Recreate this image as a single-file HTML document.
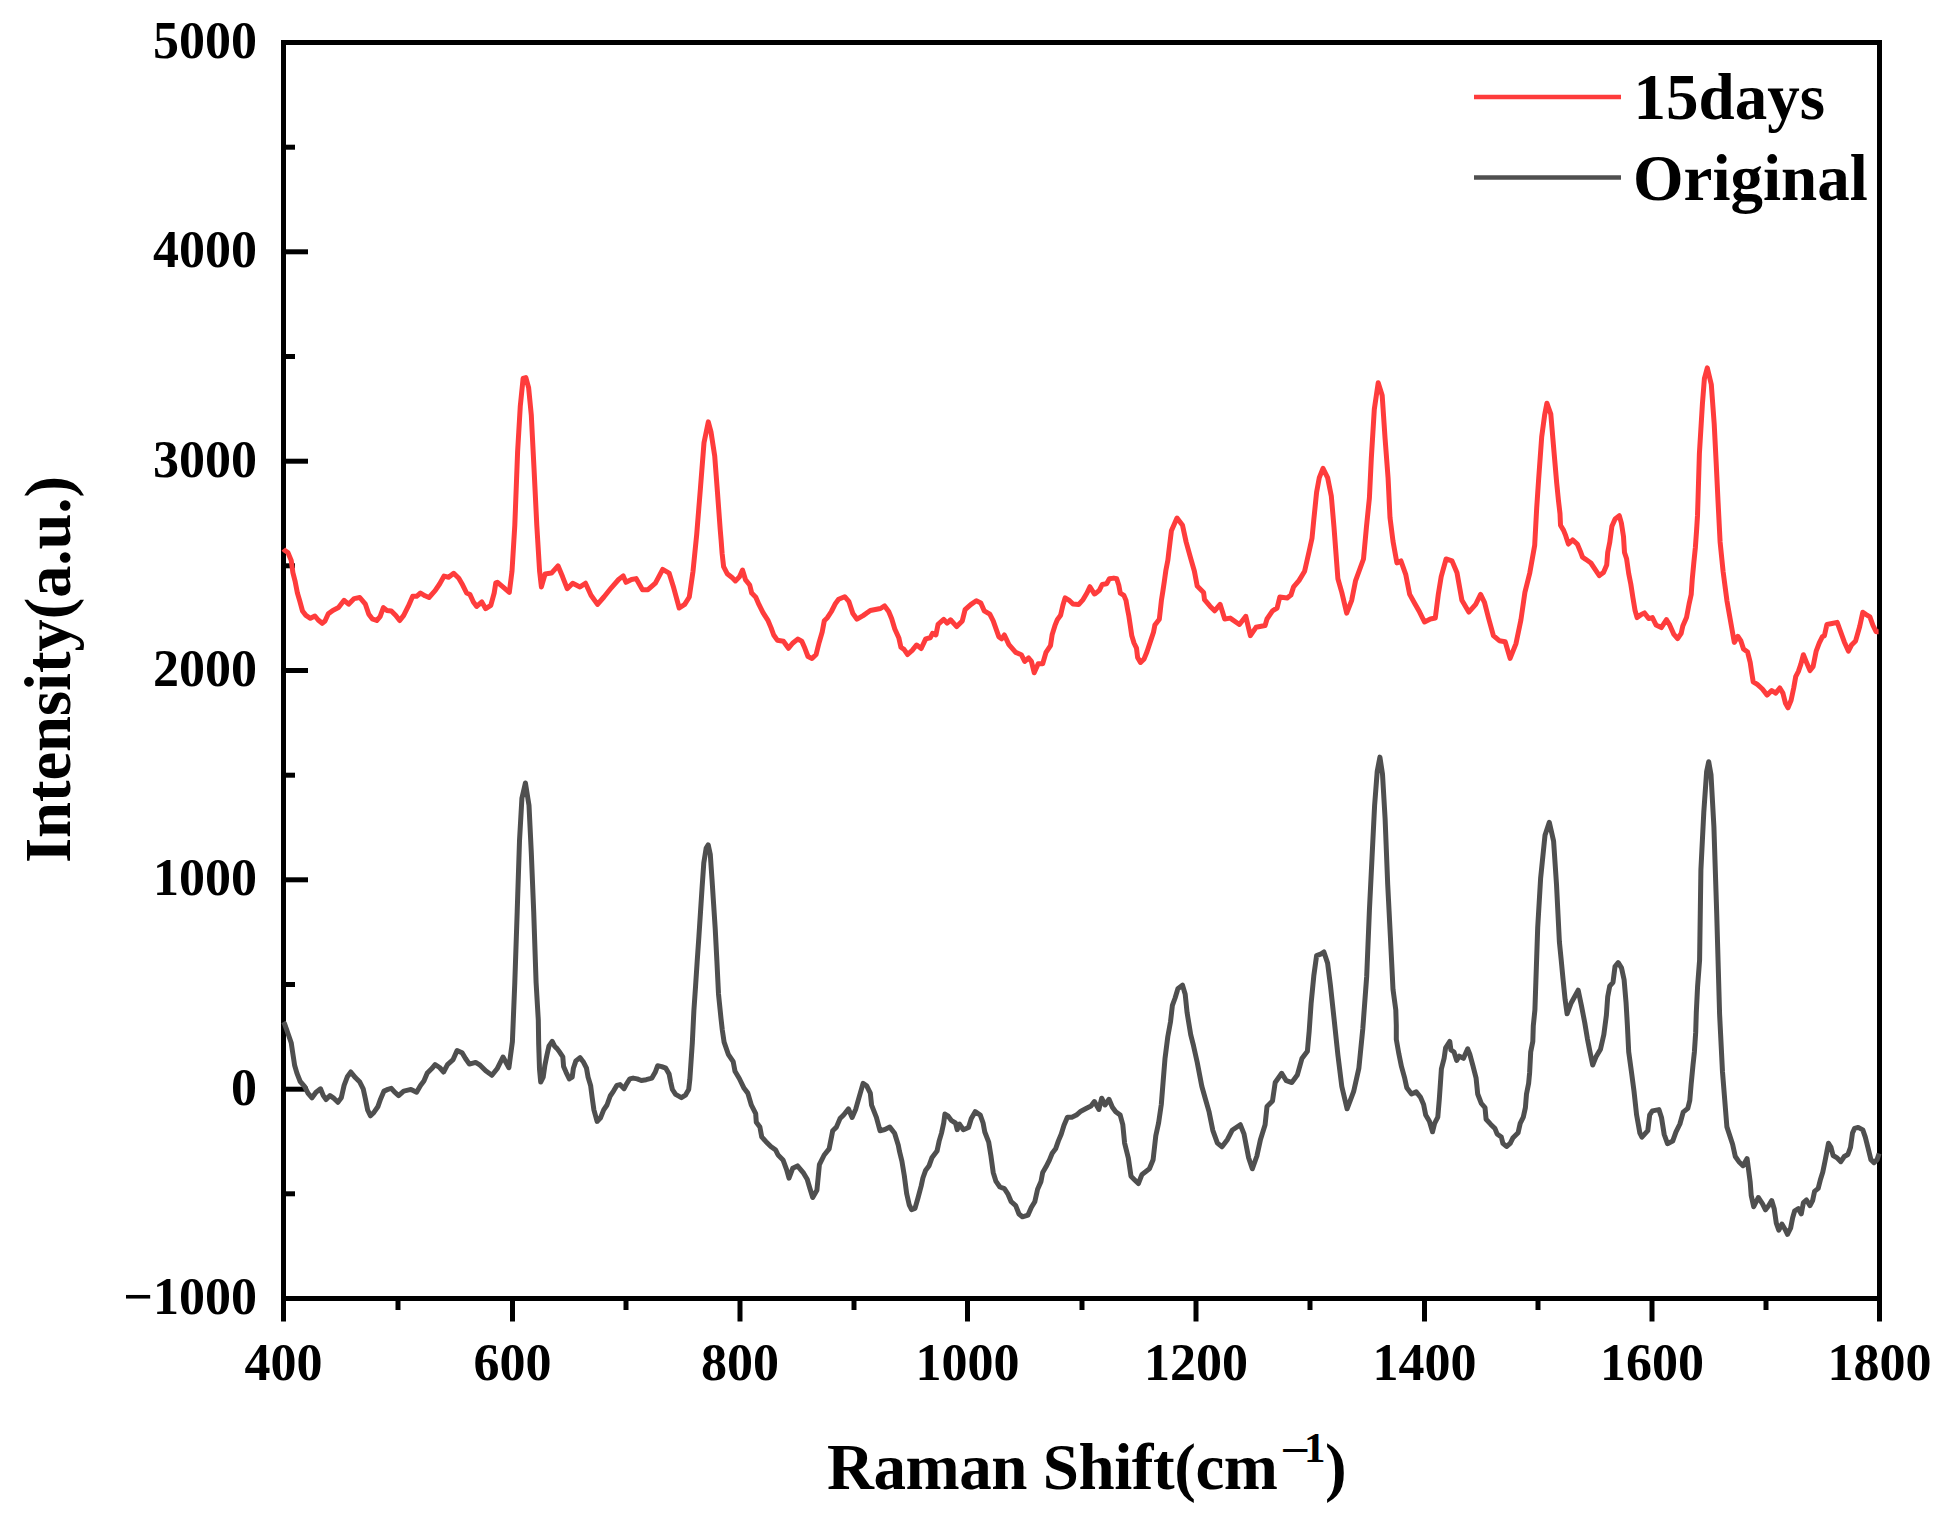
<!DOCTYPE html>
<html><head><meta charset="utf-8"><title>Raman Spectra</title>
<style>
html,body{margin:0;padding:0;background:#fff;}
body{width:1957px;height:1524px;overflow:hidden;}
svg{display:block;}
text{font-family:"Liberation Serif","Times New Roman",serif;font-weight:bold;fill:#000;}
</style></head><body>
<svg width="1957" height="1524" viewBox="0 0 1957 1524">
<rect width="1957" height="1524" fill="#fff"/>
<g stroke="#000" stroke-width="5" fill="none">
<rect x="283.5" y="42.5" width="1596.0" height="1256.0" stroke-linejoin="miter"/>
<line x1="283.5" y1="1298.5" x2="283.5" y2="1321.5"/><line x1="512.5" y1="1298.5" x2="512.5" y2="1321.5"/><line x1="740.0" y1="1298.5" x2="740.0" y2="1321.5"/><line x1="967.5" y1="1298.5" x2="967.5" y2="1321.5"/><line x1="1196.0" y1="1298.5" x2="1196.0" y2="1321.5"/><line x1="1424.5" y1="1298.5" x2="1424.5" y2="1321.5"/><line x1="1652.0" y1="1298.5" x2="1652.0" y2="1321.5"/><line x1="1879.5" y1="1298.5" x2="1879.5" y2="1321.5"/><line x1="398.0" y1="1298.5" x2="398.0" y2="1310"/><line x1="626.0" y1="1298.5" x2="626.0" y2="1310"/><line x1="854.0" y1="1298.5" x2="854.0" y2="1310"/><line x1="1082.0" y1="1298.5" x2="1082.0" y2="1310"/><line x1="1310.0" y1="1298.5" x2="1310.0" y2="1310"/><line x1="1538.0" y1="1298.5" x2="1538.0" y2="1310"/><line x1="1766.0" y1="1298.5" x2="1766.0" y2="1310"/><line x1="283.5" y1="1298.5" x2="308" y2="1298.5"/><line x1="283.5" y1="1089.2" x2="308" y2="1089.2"/><line x1="283.5" y1="879.8" x2="308" y2="879.8"/><line x1="283.5" y1="670.5" x2="308" y2="670.5"/><line x1="283.5" y1="461.2" x2="308" y2="461.2"/><line x1="283.5" y1="251.8" x2="308" y2="251.8"/><line x1="283.5" y1="42.5" x2="308" y2="42.5"/><line x1="283.5" y1="1193.8" x2="295" y2="1193.8"/><line x1="283.5" y1="984.5" x2="295" y2="984.5"/><line x1="283.5" y1="775.2" x2="295" y2="775.2"/><line x1="283.5" y1="565.8" x2="295" y2="565.8"/><line x1="283.5" y1="356.5" x2="295" y2="356.5"/><line x1="283.5" y1="147.2" x2="295" y2="147.2"/>
</g>
<g fill="none" stroke-linejoin="round" stroke-linecap="butt">
<path d="M283.5 1022.0 L284.5 1023.6 L287.3 1031.5 L291.2 1042.7 L292.9 1054.0 L294.6 1065.2 L296.9 1073.1 L300.2 1081.5 L304.7 1086.6 L308.1 1093.3 L312.0 1097.8 L316.0 1092.2 L320.5 1088.8 L323.3 1095.6 L326.1 1099.5 L330.0 1095.6 L334.0 1098.4 L337.9 1102.3 L341.3 1097.8 L344.1 1085.4 L347.5 1076.4 L350.8 1072.0 L355.3 1077.6 L359.8 1082.1 L363.2 1088.8 L365.4 1098.9 L367.7 1110.2 L370.5 1115.8 L373.9 1112.4 L377.8 1106.8 L380.6 1098.9 L384.0 1091.1 L387.9 1089.4 L391.3 1088.3 L394.7 1092.2 L398.6 1095.6 L403.7 1091.1 L411.0 1089.4 L416.6 1092.2 L420.5 1085.4 L423.9 1080.9 L427.3 1073.1 L431.8 1068.6 L435.1 1064.6 L439.6 1067.5 L443.6 1072.0 L447.5 1064.6 L453.1 1059.6 L457.1 1050.6 L462.1 1052.8 L465.5 1058.5 L469.4 1064.1 L475.6 1062.4 L480.1 1065.2 L485.7 1070.8 L491.9 1075.3 L497.1 1068.8 L503.0 1057.0 L508.9 1067.7 L512.4 1041.7 L514.8 982.6 L517.2 911.7 L519.5 840.9 L521.9 798.3 L525.4 783.0 L529.0 805.4 L531.3 852.7 L533.7 911.7 L536.1 982.6 L538.3 1020.0 L538.7 1044.5 L539.5 1069.1 L540.7 1082.1 L543.2 1077.2 L544.8 1065.8 L546.9 1055.2 L548.9 1046.2 L552.2 1041.3 L554.6 1046.2 L557.1 1048.6 L559.5 1051.9 L562.8 1056.8 L563.6 1066.6 L566.1 1072.3 L569.3 1078.9 L572.2 1077.2 L573.4 1068.2 L575.9 1060.9 L580.0 1057.6 L583.2 1061.7 L586.5 1068.2 L588.1 1077.2 L590.6 1085.4 L592.2 1097.7 L593.9 1109.9 L597.1 1121.4 L600.4 1118.1 L603.7 1109.9 L607.0 1105.0 L610.2 1096.0 L613.5 1091.1 L616.8 1085.4 L620.0 1084.6 L624.1 1088.7 L626.6 1083.8 L629.8 1078.9 L633.1 1078.1 L637.2 1078.9 L641.3 1080.5 L646.2 1079.7 L651.9 1078.1 L655.2 1072.3 L657.6 1065.8 L661.7 1066.6 L665.8 1068.2 L669.1 1074.0 L670.7 1082.1 L672.4 1089.5 L675.6 1094.4 L681.4 1097.7 L685.4 1095.2 L688.7 1089.5 L689.8 1079.8 L692.3 1043.1 L693.9 1010.3 L695.6 985.7 L697.2 961.1 L698.9 936.6 L700.5 912.0 L702.1 887.4 L703.8 862.8 L706.2 848.0 L708.2 844.8 L710.3 854.6 L712.0 879.2 L713.6 903.8 L715.2 928.4 L716.9 961.1 L718.5 993.9 L721.0 1018.5 L722.3 1030.0 L724.1 1042.1 L728.3 1054.3 L733.2 1061.6 L735.0 1071.3 L739.3 1078.5 L744.1 1088.3 L747.8 1093.1 L751.4 1105.2 L755.7 1113.7 L756.3 1122.2 L759.9 1127.1 L761.7 1136.8 L766.0 1141.7 L770.8 1146.5 L775.7 1150.1 L778.1 1155.0 L783.0 1159.9 L786.6 1169.6 L789.0 1178.1 L792.7 1168.3 L797.5 1165.9 L803.6 1173.2 L807.2 1179.3 L809.7 1187.8 L812.7 1197.5 L816.9 1190.2 L819.4 1164.7 L824.2 1155.0 L829.1 1148.9 L832.7 1130.7 L836.4 1127.1 L840.0 1118.6 L843.6 1115.0 L848.5 1108.9 L852.1 1117.4 L855.8 1108.9 L858.2 1100.4 L863.1 1083.4 L866.7 1085.8 L870.3 1093.1 L871.6 1105.2 L876.4 1117.4 L880.0 1130.7 L884.9 1129.5 L889.8 1127.1 L894.6 1133.2 L898.3 1145.3 L899.5 1151.4 L901.9 1161.1 L904.3 1175.6 L906.7 1193.8 L909.2 1204.8 L911.6 1209.6 L915.0 1208.4 L917.9 1198.3 L921.2 1185.9 L922.9 1178.0 L925.7 1170.2 L929.1 1165.7 L931.9 1157.8 L937.0 1151.1 L939.2 1140.9 L941.5 1133.1 L943.7 1123.0 L944.9 1114.0 L948.2 1116.2 L951.6 1120.7 L955.5 1123.0 L957.2 1129.7 L959.5 1124.1 L963.4 1129.7 L968.5 1127.5 L971.3 1118.5 L975.2 1111.7 L980.3 1115.1 L983.1 1123.0 L984.8 1132.0 L988.7 1142.1 L990.9 1155.6 L993.2 1172.4 L996.0 1181.4 L999.9 1187.0 L1004.4 1188.7 L1007.8 1193.8 L1011.2 1201.7 L1015.7 1205.6 L1019.0 1214.0 L1022.4 1216.8 L1028.0 1215.1 L1031.4 1207.3 L1034.8 1201.7 L1037.6 1189.3 L1041.0 1181.4 L1042.7 1172.4 L1046.0 1166.8 L1049.4 1160.1 L1052.2 1153.3 L1055.6 1148.8 L1058.4 1140.9 L1061.2 1134.2 L1064.0 1125.2 L1067.4 1117.3 L1071.9 1117.3 L1076.4 1115.1 L1080.9 1111.2 L1086.5 1108.3 L1091.0 1106.1 L1094.4 1101.6 L1098.9 1109.5 L1101.7 1098.2 L1105.0 1105.0 L1109.0 1099.3 L1112.4 1107.2 L1115.7 1111.7 L1120.2 1115.1 L1122.8 1124.7 L1124.6 1143.1 L1128.3 1157.8 L1131.0 1176.2 L1134.7 1179.9 L1138.4 1183.5 L1142.0 1174.4 L1149.4 1168.8 L1153.1 1159.7 L1155.8 1135.8 L1158.6 1122.9 L1161.3 1104.5 L1163.2 1080.7 L1165.0 1058.6 L1167.8 1036.6 L1170.5 1021.9 L1172.4 1005.3 L1175.1 998.0 L1177.9 988.8 L1182.5 985.1 L1185.2 994.3 L1187.1 1012.7 L1190.7 1034.7 L1193.5 1045.7 L1197.2 1062.3 L1201.8 1086.2 L1205.4 1099.0 L1209.1 1111.9 L1212.8 1130.3 L1217.4 1143.1 L1222.0 1146.8 L1227.5 1139.4 L1232.1 1130.3 L1240.3 1124.7 L1244.0 1133.9 L1248.6 1157.8 L1252.3 1168.8 L1256.9 1156.0 L1260.5 1139.4 L1265.1 1124.7 L1267.0 1106.4 L1272.5 1100.9 L1275.2 1082.5 L1281.7 1073.3 L1286.3 1080.7 L1291.8 1082.5 L1297.3 1075.1 L1301.9 1058.6 L1307.4 1051.3 L1309.2 1031.0 L1311.1 1003.5 L1313.8 975.9 L1316.6 955.7 L1321.2 953.9 L1323.9 952.0 L1327.6 963.1 L1330.4 985.1 L1334.0 1018.2 L1337.9 1055.0 L1341.8 1086.5 L1347.1 1108.8 L1353.6 1091.7 L1358.9 1068.1 L1362.8 1028.7 L1366.7 976.2 L1369.4 910.6 L1372.0 858.1 L1374.6 805.6 L1377.2 771.5 L1379.9 757.1 L1382.5 774.1 L1385.1 818.7 L1387.7 884.4 L1390.4 936.9 L1393.0 989.3 L1395.8 1010.0 L1396.3 1025.7 L1396.3 1039.4 L1398.9 1054.1 L1401.5 1066.7 L1404.7 1078.2 L1406.8 1087.7 L1411.5 1094.0 L1416.2 1091.9 L1420.4 1097.1 L1423.6 1104.5 L1425.7 1115.0 L1429.4 1121.3 L1432.5 1131.8 L1434.6 1123.4 L1437.8 1117.1 L1439.3 1099.2 L1440.4 1083.5 L1441.4 1068.8 L1444.1 1058.3 L1445.6 1047.8 L1449.8 1041.5 L1450.9 1049.9 L1454.0 1052.0 L1456.7 1060.4 L1459.3 1056.2 L1463.5 1058.3 L1467.7 1048.8 L1469.8 1054.1 L1472.9 1065.6 L1476.1 1078.2 L1477.7 1094.0 L1481.3 1103.4 L1485.0 1107.6 L1486.1 1119.2 L1490.8 1124.4 L1495.0 1128.6 L1497.1 1133.9 L1501.3 1137.0 L1502.9 1143.3 L1506.5 1146.5 L1510.2 1143.3 L1512.8 1138.1 L1518.1 1132.8 L1520.2 1123.4 L1523.3 1117.1 L1525.4 1107.6 L1526.5 1094.0 L1528.6 1083.5 L1529.6 1073.0 L1530.7 1052.0 L1532.8 1041.5 L1533.3 1025.7 L1534.9 1010.0 L1537.7 927.7 L1540.6 878.6 L1545.0 835.3 L1549.3 822.3 L1553.6 841.1 L1556.5 884.4 L1559.4 942.1 L1561.2 960.0 L1563.1 979.7 L1565.1 999.4 L1567.1 1013.8 L1571.0 1003.3 L1578.2 990.2 L1581.5 1005.9 L1584.8 1023.0 L1587.4 1038.7 L1590.0 1051.9 L1592.7 1065.0 L1595.9 1057.1 L1600.5 1049.2 L1603.8 1034.8 L1606.4 1015.1 L1607.7 996.7 L1609.7 986.2 L1613.0 982.3 L1615.0 966.6 L1618.2 962.6 L1621.5 967.9 L1624.1 979.7 L1626.1 1003.3 L1627.4 1025.6 L1628.7 1051.9 L1631.4 1071.5 L1634.0 1091.2 L1636.6 1114.9 L1639.9 1133.2 L1641.9 1137.2 L1647.8 1130.6 L1649.7 1114.9 L1652.4 1110.9 L1658.9 1109.6 L1661.5 1117.5 L1664.2 1134.5 L1667.5 1143.7 L1672.7 1141.1 L1676.0 1131.9 L1679.9 1124.0 L1683.2 1112.2 L1687.8 1108.3 L1689.8 1100.4 L1691.1 1084.7 L1693.0 1065.0 L1694.4 1051.9 L1695.7 1032.2 L1696.3 1012.5 L1697.6 986.2 L1699.6 960.0 L1700.9 869.9 L1703.8 812.2 L1706.6 771.8 L1708.7 761.7 L1711.0 774.6 L1713.9 826.6 L1716.7 913.2 L1719.6 1014.3 L1722.5 1072.0 L1726.9 1126.9 L1732.6 1144.2 L1735.3 1156.5 L1738.9 1161.7 L1743.0 1165.7 L1747.1 1158.6 L1748.6 1169.8 L1750.2 1182.1 L1751.2 1195.4 L1753.7 1206.7 L1758.3 1197.5 L1762.4 1203.6 L1765.5 1209.8 L1768.6 1205.7 L1771.7 1200.6 L1774.2 1208.7 L1776.3 1223.1 L1778.8 1230.2 L1781.9 1224.1 L1785.0 1229.2 L1787.5 1234.3 L1790.6 1228.2 L1792.6 1218.0 L1794.7 1210.8 L1798.3 1208.7 L1801.3 1213.9 L1803.4 1202.6 L1806.5 1200.0 L1810.0 1205.7 L1812.6 1200.6 L1814.6 1191.3 L1818.2 1188.3 L1820.3 1180.1 L1822.8 1171.9 L1824.9 1161.7 L1826.9 1151.4 L1828.5 1143.2 L1831.0 1147.3 L1833.1 1155.5 L1836.7 1157.6 L1840.8 1161.7 L1844.3 1156.5 L1847.9 1154.5 L1850.5 1147.3 L1852.5 1133.0 L1854.6 1128.4 L1858.2 1127.4 L1862.8 1129.9 L1865.3 1137.1 L1867.9 1147.3 L1870.9 1159.6 L1874.0 1162.6 L1877.1 1159.6 L1879.1 1153.5" stroke="#4f4f4f" stroke-width="5"/>
<path d="M283.5 549.0 L284.5 550.2 L287.9 552.5 L291.2 560.4 L292.9 572.7 L295.2 581.7 L297.4 593.0 L299.7 600.8 L302.5 611.0 L305.9 615.4 L310.4 618.3 L314.9 616.0 L318.2 620.0 L322.2 623.3 L325.0 621.0 L328.3 613.8 L332.8 610.4 L338.5 607.6 L344.1 600.3 L348.6 604.2 L354.2 598.6 L359.8 597.5 L365.4 604.2 L368.8 614.3 L372.2 618.8 L376.7 620.5 L380.1 616.6 L383.4 607.6 L386.8 610.4 L391.3 610.9 L395.8 615.4 L399.7 620.5 L403.7 615.4 L408.2 606.4 L412.7 596.3 L416.6 596.3 L420.5 593.0 L425.0 595.8 L429.0 597.5 L435.1 590.7 L439.6 584.0 L444.1 576.1 L448.6 577.2 L453.7 573.3 L458.8 578.3 L462.7 585.1 L466.6 593.0 L470.0 594.6 L473.4 602.0 L476.7 606.4 L481.8 602.0 L485.7 608.7 L490.8 605.3 L494.2 593.0 L495.8 582.8 L497.3 582.3 L502.9 586.9 L509.3 592.4 L512.0 571.3 L514.8 525.4 L517.6 451.9 L520.3 405.9 L523.1 378.4 L525.8 377.5 L528.6 387.6 L531.3 415.1 L534.1 470.2 L536.8 525.4 L539.6 571.3 L541.4 586.9 L545.1 574.0 L551.5 573.1 L558.0 565.8 L562.6 576.8 L567.2 588.7 L572.7 583.2 L580.0 586.9 L585.5 583.2 L591.0 595.2 L597.5 604.4 L603.9 597.0 L611.3 587.8 L618.6 579.5 L623.2 575.9 L626.0 582.3 L631.5 579.5 L636.1 578.6 L642.5 589.7 L648.0 589.7 L655.4 583.2 L662.7 569.4 L669.1 573.1 L673.7 587.8 L679.2 608.0 L684.7 604.4 L689.3 597.0 L693.0 571.3 L696.7 534.5 L700.4 488.6 L704.0 442.7 L708.3 421.9 L711.0 432.0 L714.7 455.9 L717.5 492.7 L720.2 529.4 L721.1 540.0 L722.1 553.3 L723.6 566.6 L727.2 573.7 L732.3 577.8 L735.4 580.9 L739.5 576.8 L742.5 570.1 L745.6 579.9 L749.7 585.0 L751.7 593.1 L755.8 597.2 L758.9 604.4 L763.0 612.6 L768.1 620.7 L771.1 627.9 L773.7 635.0 L777.3 640.2 L783.4 641.2 L788.5 648.3 L792.6 643.2 L797.7 639.1 L801.8 641.2 L804.9 648.3 L808.0 656.5 L812.0 658.5 L816.1 654.5 L819.2 642.2 L822.2 632.0 L824.3 620.7 L827.4 617.7 L831.4 611.5 L835.5 603.4 L838.6 599.3 L844.7 596.7 L848.8 601.3 L852.9 613.6 L857.0 619.2 L863.1 615.6 L870.3 610.5 L875.4 609.5 L880.5 608.5 L884.6 605.9 L888.7 611.5 L891.7 618.7 L894.8 628.9 L898.9 638.1 L900.9 647.3 L904.0 649.4 L907.6 654.5 L912.2 650.4 L916.3 645.3 L916.7 645.1 L921.2 648.5 L925.7 638.9 L930.2 637.8 L932.5 633.3 L935.9 635.0 L938.1 624.3 L943.7 619.3 L947.1 623.2 L950.5 619.8 L956.7 626.6 L962.3 620.9 L965.1 609.7 L970.7 604.6 L976.3 600.7 L980.8 603.0 L984.2 610.8 L989.8 614.2 L993.2 620.9 L998.8 636.7 L1001.6 638.9 L1004.4 635.0 L1008.9 644.6 L1015.7 652.4 L1021.3 654.7 L1024.7 661.4 L1028.6 658.0 L1031.4 661.4 L1034.2 672.7 L1038.2 663.7 L1042.7 663.7 L1046.0 652.4 L1050.5 645.7 L1052.2 634.4 L1055.0 625.4 L1057.3 619.8 L1060.6 615.3 L1062.9 605.2 L1065.1 597.9 L1069.6 600.7 L1073.0 604.1 L1078.6 604.6 L1083.1 599.6 L1087.1 592.8 L1089.9 586.7 L1094.4 594.0 L1095.0 593.9 L1099.3 590.3 L1102.2 584.5 L1106.6 583.8 L1109.4 578.8 L1113.8 578.1 L1116.7 578.8 L1118.8 585.3 L1120.3 593.2 L1123.9 595.4 L1126.0 600.4 L1127.5 609.1 L1128.9 616.3 L1130.4 626.4 L1131.8 635.8 L1134.0 643.0 L1136.5 648.1 L1137.6 657.5 L1140.5 662.5 L1144.1 658.9 L1147.0 651.7 L1150.6 640.9 L1153.5 632.2 L1154.9 625.0 L1159.3 619.2 L1160.3 610.5 L1161.4 600.4 L1162.9 591.0 L1164.3 581.7 L1165.8 570.8 L1167.9 560.0 L1168.7 552.9 L1171.4 530.8 L1177.0 518.0 L1182.5 525.3 L1186.1 541.9 L1190.7 558.4 L1194.4 571.3 L1197.2 586.0 L1203.6 592.4 L1204.5 599.7 L1210.0 606.2 L1214.6 610.8 L1220.1 604.3 L1224.7 619.0 L1230.2 618.1 L1239.4 624.5 L1245.8 616.3 L1250.4 635.6 L1256.0 627.3 L1265.1 625.5 L1267.0 619.0 L1272.5 610.8 L1277.1 608.0 L1279.8 597.0 L1287.2 597.9 L1290.9 595.1 L1293.6 586.9 L1299.1 580.4 L1304.6 571.3 L1309.2 551.0 L1312.0 538.2 L1313.8 519.8 L1316.6 492.3 L1319.3 477.6 L1323.0 468.4 L1327.6 477.6 L1331.3 495.9 L1334.0 527.2 L1337.9 578.7 L1341.8 592.4 L1346.7 613.1 L1351.7 600.3 L1355.6 580.6 L1363.5 559.0 L1366.4 527.5 L1369.4 498.0 L1371.3 458.6 L1374.3 409.4 L1378.2 382.8 L1382.2 395.6 L1385.1 438.9 L1388.1 478.3 L1390.0 517.6 L1393.0 541.3 L1396.9 562.9 L1400.9 560.9 L1405.8 574.7 L1409.7 594.4 L1414.6 603.3 L1419.6 612.1 L1424.5 622.0 L1430.4 619.0 L1435.3 618.0 L1438.3 594.4 L1441.2 576.7 L1446.1 559.0 L1452.0 560.9 L1457.0 572.8 L1461.9 600.3 L1468.8 612.1 L1475.7 604.3 L1480.6 594.4 L1484.5 602.3 L1488.5 618.0 L1493.4 635.7 L1499.3 640.7 L1505.2 641.7 L1510.1 658.4 L1516.0 643.6 L1520.9 620.0 L1524.9 592.4 L1529.8 572.8 L1534.7 545.2 L1536.7 507.8 L1538.7 478.3 L1541.7 436.9 L1544.6 415.3 L1546.9 403.2 L1550.8 414.1 L1553.8 449.5 L1556.7 483.0 L1558.4 500.0 L1560.0 513.6 L1560.5 525.2 L1563.6 530.4 L1565.7 535.7 L1568.4 544.1 L1572.6 539.9 L1577.3 544.1 L1580.4 551.4 L1582.5 557.2 L1585.7 559.3 L1590.9 563.0 L1595.1 569.3 L1599.3 575.6 L1603.5 572.4 L1606.7 565.1 L1607.7 552.5 L1609.8 542.0 L1611.9 526.2 L1615.1 518.9 L1619.3 515.7 L1621.4 523.1 L1623.5 536.7 L1624.5 552.5 L1626.6 558.8 L1628.7 573.5 L1630.8 584.0 L1632.9 597.6 L1635.0 610.2 L1637.1 617.6 L1641.3 614.4 L1644.5 612.9 L1648.7 618.6 L1652.4 617.6 L1656.0 624.9 L1661.3 627.6 L1666.5 619.7 L1669.7 624.9 L1673.9 634.4 L1677.6 638.6 L1681.2 633.3 L1682.8 626.0 L1686.5 617.6 L1689.1 603.9 L1691.2 594.5 L1692.3 578.7 L1693.8 563.0 L1695.4 547.2 L1696.5 531.5 L1697.5 515.7 L1698.0 500.0 L1699.4 453.4 L1702.4 404.2 L1704.4 378.6 L1707.3 367.8 L1711.3 384.5 L1714.2 423.9 L1716.2 463.3 L1718.1 502.6 L1720.1 542.0 L1723.1 571.5 L1727.0 601.1 L1734.3 642.4 L1737.9 636.3 L1740.9 640.9 L1743.5 649.1 L1747.6 652.1 L1750.2 662.4 L1751.7 672.6 L1753.2 681.8 L1757.3 684.4 L1762.4 689.0 L1767.0 695.1 L1771.7 690.5 L1775.7 693.1 L1779.8 688.0 L1782.9 693.1 L1785.5 703.3 L1788.0 707.9 L1791.1 700.2 L1793.7 688.0 L1795.7 676.7 L1798.3 671.6 L1800.8 664.4 L1803.4 654.7 L1806.5 662.4 L1810.0 670.6 L1813.1 666.5 L1816.2 651.1 L1819.3 642.9 L1822.3 636.8 L1824.4 635.7 L1826.9 624.5 L1832.0 623.5 L1837.2 622.4 L1840.2 630.6 L1844.3 641.9 L1848.4 651.1 L1851.5 645.0 L1855.6 640.9 L1859.7 626.5 L1862.8 612.2 L1865.8 614.3 L1869.9 616.8 L1873.0 625.5 L1876.1 631.7 L1878.6 631.7" stroke="#fe3c3c" stroke-width="5"/>
</g>
<g font-size="52">
<text x="283.5" y="1380" text-anchor="middle">400</text><text x="512.5" y="1380" text-anchor="middle">600</text><text x="740.0" y="1380" text-anchor="middle">800</text><text x="967.5" y="1380" text-anchor="middle">1000</text><text x="1196.0" y="1380" text-anchor="middle">1200</text><text x="1424.5" y="1380" text-anchor="middle">1400</text><text x="1652.0" y="1380" text-anchor="middle">1600</text><text x="1879.5" y="1380" text-anchor="middle">1800</text><text x="257" y="1314.0" text-anchor="end">−1000</text><text x="257" y="1104.7" text-anchor="end">0</text><text x="257" y="895.3" text-anchor="end">1000</text><text x="257" y="686.0" text-anchor="end">2000</text><text x="257" y="476.7" text-anchor="end">3000</text><text x="257" y="267.3" text-anchor="end">4000</text><text x="257" y="58.0" text-anchor="end">5000</text>
</g>
<g stroke-width="4.4" stroke-linecap="butt">
<line x1="1474" y1="97" x2="1621" y2="97" stroke="#fe3c3c"/>
<line x1="1474" y1="177.5" x2="1621" y2="177.5" stroke="#4f4f4f" stroke-width="4.6"/>
</g>
<g font-size="65">
<text x="1633.5" y="119">15days</text>
<text x="1633" y="199.5">Original</text>
<text x="827" y="1489" letter-spacing="-0.45">Raman Shift(cm</text>
<text transform="translate(1280.5 1464.5) scale(1.22 1)" font-size="43">−</text>
<text x="1304" y="1462" font-size="43">1</text>
<text x="1325" y="1489">)</text>
<text transform="translate(69.5 669.5) rotate(-90)" text-anchor="middle" font-size="64.5">Intensity(a.u.)</text>
</g>
</svg>
</body></html>
